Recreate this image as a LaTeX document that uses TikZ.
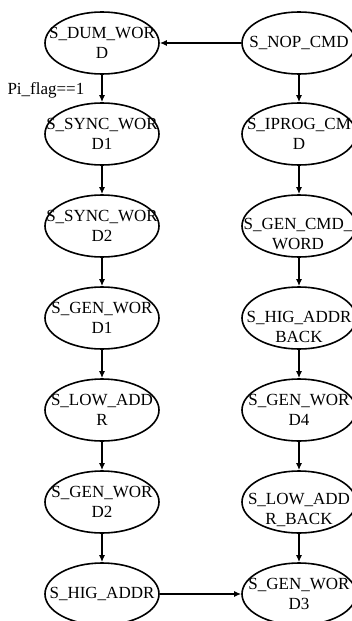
\documentclass[tikz,border=0pt]{standalone}
\usepackage{fontspec}
\setmainfont{Liberation Serif}
\usetikzlibrary{shapes.geometric,arrows.meta}
\tikzset{
  st/.style={draw, ellipse, line width=1.6pt, minimum width=114pt, minimum height=62pt, inner sep=0pt},
  lbl/.style={align=center, font=\fontsize{17}{20}\selectfont, inner sep=0pt},
  arr/.style={-{Latex[length=7pt,width=6pt]}, line width=1.4pt}
}
\begin{document}
\begin{tikzpicture}[x=1pt,y=-1pt]
\useasboundingbox (0,0) rectangle (352,621);
% left column
\node[st, label={[lbl]center:{S\_DUM\_WOR\\D}}] (dum) at (102,43) {};
\node[st, label={[lbl]center:{S\_SYNC\_WOR\\D1}}] (sync1) at (102,134) {};
\node[st, label={[lbl]center:{S\_SYNC\_WOR\\D2}}] (sync2) at (102,226) {};
\node[st, label={[lbl]center:{S\_GEN\_WOR\\D1}}] (gen1) at (102,318) {};
\node[st, label={[lbl]center:{S\_LOW\_ADD\\R}}] (low) at (102,410) {};
\node[st, label={[lbl]center:{S\_GEN\_WOR\\D2}}] (gen2) at (102,502) {};
\node[st, label={[lbl]center:{S\_HIG\_ADDR}}] (hig) at (102,594) {};
% right column
\node[st, label={[lbl]center:{S\_NOP\_CMD}}] (nop) at (299,43) {};
\node[st, label={[lbl]center:{S\_IPROG\_CM\\D}}] (iprog) at (299,134) {};
\node[st, label={[lbl,yshift=-8pt,xshift=-1pt]center:{S\_GEN\_CMD\_\\WORD}}] (gencmd) at (299,226) {};
\node[st, label={[lbl,yshift=-9pt]center:{S\_HIG\_ADDR\\BACK}}] (higback) at (299,318) {};
\node[st, label={[lbl]center:{S\_GEN\_WOR\\D4}}] (gen4) at (299,410) {};
\node[st, label={[lbl,yshift=-8pt]center:{S\_LOW\_ADD\\R\_BACK}}] (lowback) at (299,502) {};
\node[st, label={[lbl]center:{S\_GEN\_WOR\\D3}}] (gen3) at (299,594) {};
% edges
\draw[arr] (nop) -- (dum);
\draw[arr] (dum) -- node[lbl, left=17pt, pos=0.55] (cond) {Pi\_flag==1} (sync1);
\draw[arr] (sync1) -- (sync2);
\draw[arr] (sync2) -- (gen1);
\draw[arr] (gen1) -- (low);
\draw[arr] (low) -- (gen2);
\draw[arr] (gen2) -- (hig);
\draw[arr] (hig) -- (gen3);
\draw[arr] (nop) -- (iprog);
\draw[arr] (iprog) -- (gencmd);
\draw[arr] (gencmd) -- (higback);
\draw[arr] (higback) -- (gen4);
\draw[arr] (gen4) -- (lowback);
\draw[arr] (lowback) -- (gen3);
\end{tikzpicture}
\end{document}
